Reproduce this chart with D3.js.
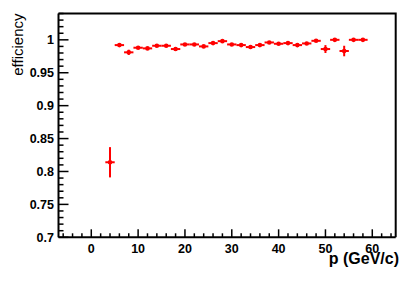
<!DOCTYPE html>
<html>
<head>
<meta charset="utf-8">
<script src="https://d3js.org/d3.v7.min.js"></script>
<style>
  body { margin: 0; background: #fff; }
  svg { display: block; }
  text { font-family: "Liberation Sans", Arial, Helvetica, sans-serif; }
</style>
</head>
<body>
<div id="chart"></div>
<script>
// data
var momentum = [4, 6, 8, 10, 12, 14, 16, 18, 20, 22, 24, 26, 28, 30, 32, 34, 36, 38, 40, 42, 44, 46, 48, 50, 52, 54, 56, 58];
var efficiency = [0.814, 0.992, 0.981, 0.988, 0.987, 0.991, 0.991, 0.986, 0.993, 0.993, 0.990, 0.995, 0.998, 0.993, 0.992, 0.989, 0.992, 0.996, 0.994, 0.995, 0.992, 0.9945, 0.9985, 0.986, 1.0, 0.983, 1.0, 1.0];
var effError = [0.023, 0.002, 0.004, 0.002, 0.002, 0.002, 0.002, 0.003, 0.002, 0.002, 0.002, 0.002, 0.001, 0.002, 0.002, 0.003, 0.002, 0.002, 0.002, 0.002, 0.003, 0.002, 0.001, 0.006, 0.001, 0.008, 0.001, 0.001];
var binHalf = 1;

var xTicks = [0, 10, 20, 30, 40, 50, 60];
var yTicks = [0.7, 0.75, 0.8, 0.85, 0.9, 0.95, 1];

var width = 417, height = 283;
var frame = {left: 58.5, right: 395.7, top: 13.5, bottom: 237.3};

var svg = d3.select("#chart").append("svg")
  .attr("width", width)
  .attr("height", height);

var x = d3.scaleLinear().domain([-7, 65]).range([frame.left, frame.right]);
var y = d3.scaleLinear().domain([0.7, 1.04]).range([frame.bottom, frame.top]);

// frame (top + right)
svg.append("path")
  .attr("d", "M" + frame.left + "," + frame.top + "H" + frame.right + "V" + frame.bottom)
  .attr("fill", "none")
  .attr("stroke", "#000")
  .attr("stroke-width", 2);

// y axis, ticks pointing inwards
var yMinor = d3.range(0.70, 1.0401, 0.01).filter(d => !yTicks.some(t => Math.abs(t - d) < 1e-6));
var yAxis = svg.append("g").attr("class", "y-axis");
yAxis.selectAll(".minor").data(yMinor).enter().append("line")
  .attr("x1", frame.left).attr("x2", frame.left + 5)
  .attr("y1", d => y(d)).attr("y2", d => y(d))
  .attr("stroke", "#000").attr("stroke-width", 1.5);
yAxis.selectAll(".major").data(yTicks).enter().append("line")
  .attr("x1", frame.left).attr("x2", frame.left + 10)
  .attr("y1", d => y(d)).attr("y2", d => y(d))
  .attr("stroke", "#000").attr("stroke-width", 1.5);
yAxis.selectAll("text").data(yTicks).enter().append("text")
  .attr("x", frame.left - 4.5)
  .attr("y", d => y(d))
  .attr("dy", "0.36em")
  .attr("text-anchor", "end")
  .style("font-size", "12.5px")
  .style("font-weight", "bold")
  .text(d => d3.format("")(d));
yAxis.append("line")
  .attr("x1", frame.left).attr("x2", frame.left)
  .attr("y1", frame.top).attr("y2", frame.bottom)
  .attr("stroke", "#000").attr("stroke-width", 2);

// x axis
var xMinor = d3.range(-6, 65, 2).filter(d => d % 10 !== 0);
var xAxis = svg.append("g").attr("class", "x-axis");
xAxis.selectAll(".minor").data(xMinor).enter().append("line")
  .attr("x1", d => x(d)).attr("x2", d => x(d))
  .attr("y1", frame.bottom).attr("y2", frame.bottom - 4)
  .attr("stroke", "#000").attr("stroke-width", 1.5);
xAxis.selectAll(".major").data(xTicks).enter().append("line")
  .attr("x1", d => x(d)).attr("x2", d => x(d))
  .attr("y1", frame.bottom).attr("y2", frame.bottom - 8)
  .attr("stroke", "#000").attr("stroke-width", 1.5);
xAxis.selectAll("text").data(xTicks).enter().append("text")
  .attr("x", d => x(d))
  .attr("y", frame.bottom + 16)
  .attr("text-anchor", "middle")
  .style("font-size", "12.5px")
  .style("font-weight", "bold")
  .text(d => d);
xAxis.append("line")
  .attr("x1", frame.left).attr("x2", frame.right)
  .attr("y1", frame.bottom).attr("y2", frame.bottom)
  .attr("stroke", "#000").attr("stroke-width", 2);

// axis titles
svg.append("text")
  .attr("transform", "translate(23," + frame.top + ") rotate(-90)")
  .attr("text-anchor", "end")
  .style("font-size", "15px")
  .text("efficiency");

svg.append("text")
  .attr("x", 399)
  .attr("y", 264)
  .attr("text-anchor", "end")
  .style("font-size", "16px")
  .style("font-weight", "bold")
  .text("p (GeV/c)");

// points with error bars
var pts = momentum.map((m, i) => ({p: m, eff: efficiency[i], err: effError[i]}));
var red = "#ff0000";
var g = svg.append("g").attr("class", "points");
g.selectAll(".ex").data(pts).enter().append("line")
  .attr("x1", d => x(d.p - binHalf)).attr("x2", d => x(d.p + binHalf))
  .attr("y1", d => y(d.eff)).attr("y2", d => y(d.eff))
  .attr("stroke", red).attr("stroke-width", 2);
g.selectAll(".ey").data(pts).enter().append("line")
  .attr("x1", d => x(d.p)).attr("x2", d => x(d.p))
  .attr("y1", d => y(d.eff - d.err)).attr("y2", d => y(d.eff + d.err))
  .attr("stroke", red).attr("stroke-width", 2);
g.selectAll("circle").data(pts).enter().append("circle")
  .attr("cx", d => x(d.p))
  .attr("cy", d => y(d.eff))
  .attr("r", 2.3)
  .attr("fill", red);
</script>
</body>
</html>
